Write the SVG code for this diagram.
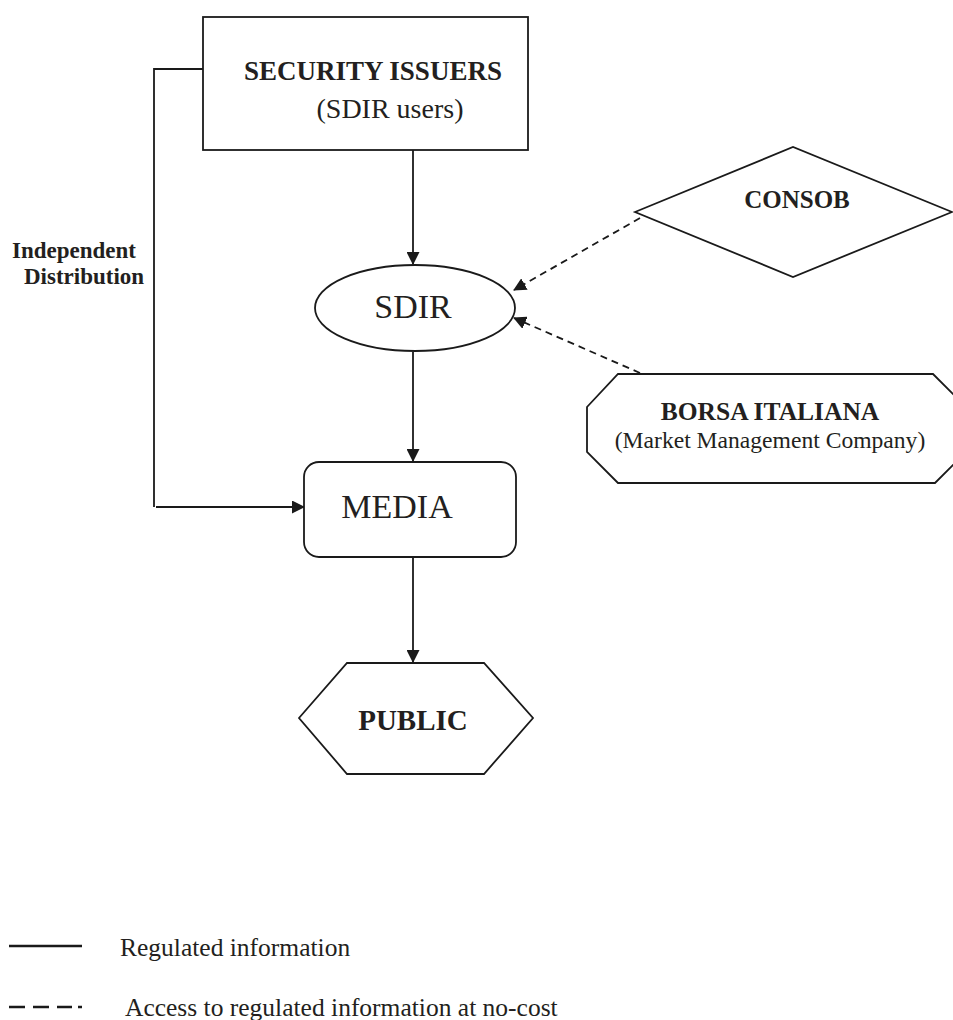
<svg xmlns="http://www.w3.org/2000/svg" width="953" height="1020" viewBox="0 0 953 1020">
<defs>
<style>
.shape{fill:#fff;stroke:#1a1a1a;stroke-width:1.8}
.ln{fill:none;stroke:#1a1a1a;stroke-width:1.8}
.dash{fill:none;stroke:#1a1a1a;stroke-width:1.8;stroke-dasharray:7,5}
.t{font-family:"Liberation Serif","Times New Roman",serif;fill:#231f20;text-anchor:middle}
.b{font-weight:bold}
</style>
<marker id="ah" markerWidth="13" markerHeight="13" refX="12" refY="6.5" orient="auto" markerUnits="userSpaceOnUse">
<path d="M0,0 L13,6.5 L0,13 Z" fill="#1a1a1a"/>
</marker>
</defs>
<g id="connectors">
<path class="ln" d="M413,150 L413,264" marker-end="url(#ah)"/>
<path class="ln" d="M413,352 L413,461" marker-end="url(#ah)"/>
<path class="ln" d="M413,557 L413,662" marker-end="url(#ah)"/>
<path class="ln" d="M203,69 L154,69 L154,507" />
<path class="ln" d="M156,507 L304,507" marker-end="url(#ah)"/>
<path class="dash" d="M640,218 L514,290" marker-end="url(#ah)"/>
<path class="dash" d="M640,373 L514,318" marker-end="url(#ah)"/>
</g>
<g id="security-issuers">
<rect class="shape" x="203" y="17" width="325" height="133"/>
<text class="t b" x="373" y="80" font-size="27">SECURITY ISSUERS</text>
<text class="t" x="390" y="118" font-size="28">(SDIR users)</text>
</g>
<g id="sdir">
<ellipse class="shape" cx="415" cy="308" rx="100" ry="43"/>
<text class="t" x="413" y="318" font-size="34">SDIR</text>
</g>
<g id="consob">
<polygon class="shape" points="635,212 793,147 952,212 793,277"/>
<text class="t b" x="797" y="208" font-size="25">CONSOB</text>
</g>
<g id="borsa">
<polygon class="shape" points="618,374 933,374 966,407 966,452 935,483 618,483 587,452 587,407"/>
<text class="t b" x="770" y="420" font-size="25.5">BORSA ITALIANA</text>
<text class="t" x="770" y="448" font-size="23.6">(Market Management Company)</text>
</g>
<g id="media">
<rect class="shape" x="304" y="462" width="212" height="95" rx="15"/>
<text class="t" x="397" y="518" font-size="34">MEDIA</text>
</g>
<g id="public">
<polygon class="shape" points="299,718 347,663 484,663 533,718 484,774 347,774"/>
<text class="t b" x="413" y="730" font-size="29">PUBLIC</text>
</g>
<g id="label-independent">
<text class="t b" x="12" y="258" font-size="23" style="text-anchor:start">Independent</text>
<text class="t b" x="24" y="284" font-size="23" style="text-anchor:start">Distribution</text>
</g>
<g id="legend">
<line x1="9" y1="946" x2="82" y2="946" stroke="#1a1a1a" stroke-width="2.6"/>
<text class="t" x="120" y="956" font-size="25.5" style="text-anchor:start">Regulated information</text>
<line x1="9" y1="1007" x2="82" y2="1007" stroke="#1a1a1a" stroke-width="2.6" stroke-dasharray="16,8,16,8,15,6,4,100"/>
<text class="t" x="125" y="1016" font-size="25.5" style="text-anchor:start">Access to regulated information at no-cost</text>
</g>
</svg>
